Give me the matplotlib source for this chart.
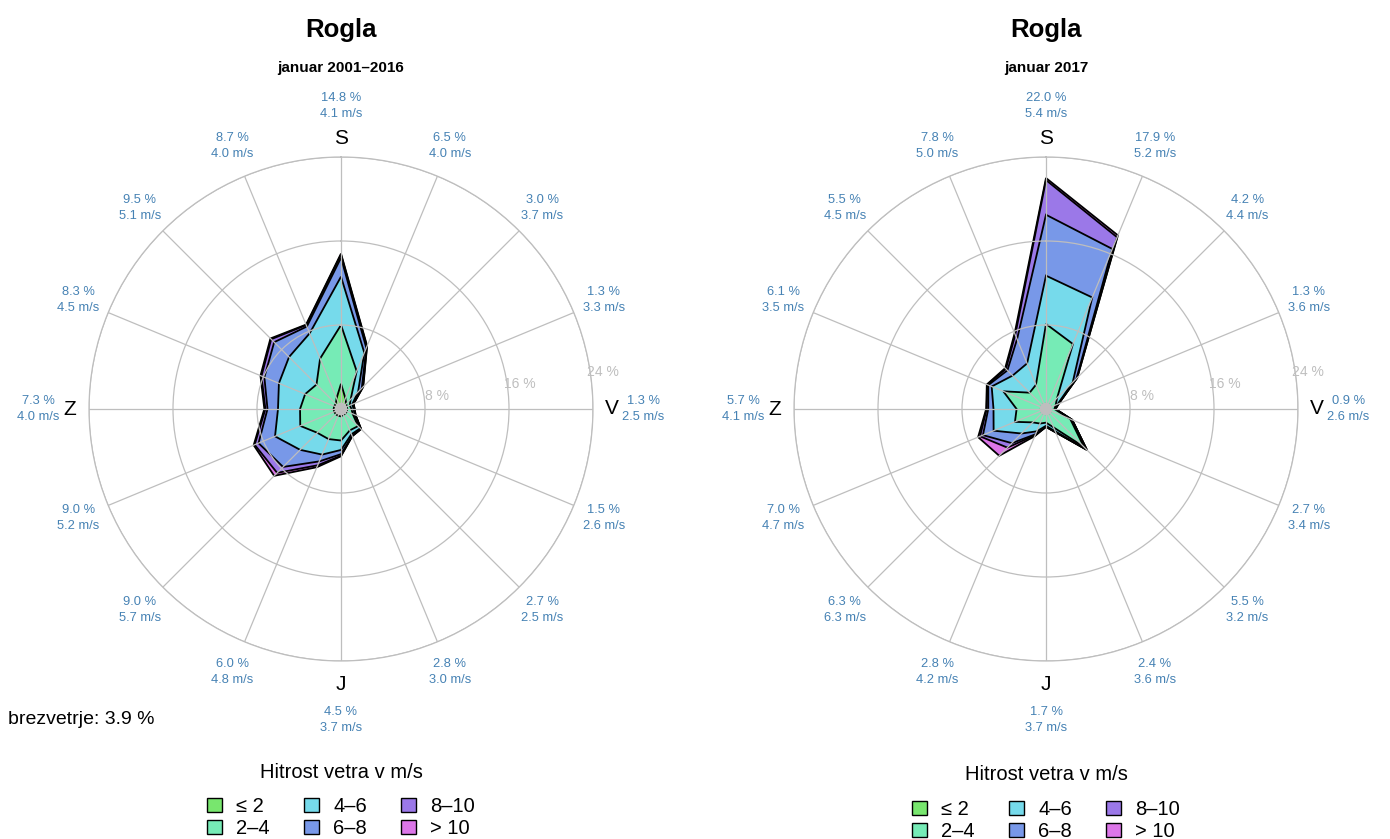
import numpy as np
import matplotlib
matplotlib.use('Agg')
import matplotlib.pyplot as plt
from matplotlib.patches import Patch

plt.rcParams['font.family'] = ['Liberation Sans', 'DejaVu Sans']

# ---------------- data ----------------
directions = ['S', 'SSV', 'SV', 'VSV', 'V', 'VJV', 'JV', 'JJV',
              'J', 'JJZ', 'JZ', 'ZJZ', 'Z', 'ZSZ', 'SZ', 'SSZ']
cardinal_letters = {0: 'S', 4: 'V', 8: 'J', 12: 'Z'}
speed_classes = ['≤ 2', '2–4', '4–6', '6–8', '8–10', '> 10']
class_colors = ['#78E66E', '#76EBB6', '#76DAEB', '#7898E8', '#9B78E8', '#DC76E8']
legend_title = 'Hitrost vetra v m/s'
station = 'Rogla'

# left rose: januar 2001–2016  (frequency %, per speed class, per direction)
left_period = 'januar 2001–2016'
left_total = [14.8, 6.5, 3.0, 1.3, 1.3, 1.5, 2.7, 2.8, 4.5, 6.0, 9.0, 9.0, 7.3, 8.3, 9.5, 8.7]
left_speed = [4.1, 4.0, 3.7, 3.3, 2.5, 2.6, 2.5, 3.0, 3.7, 4.8, 5.7, 5.2, 4.0, 4.5, 5.1, 4.0]
left_le2 = [2.4, 1.1, 0.7, 0.6, 0.6, 0.6, 0.6, 0.6, 0.7, 0.7, 0.7, 0.7, 0.7, 0.7, 0.7, 1.1]
left_2_4 = [5.6, 2.8, 0.6, 0.3, 0.4, 0.6, 1.7, 1.6, 2.3, 2.4, 2.5, 3.5, 3.2, 3.0, 2.6, 4.1]
left_4_6 = [4.6, 1.9, 1.0, 0.25, 0.2, 0.2, 0.3, 0.4, 0.9, 1.6, 2.3, 2.6, 2.1, 2.7, 3.7, 2.6]
left_6_8 = [1.8, 0.5, 0.5, 0.1, 0.08, 0.08, 0.08, 0.15, 0.4, 0.7, 2.3, 1.7, 1.0, 1.5, 2.0, 0.7]
left_8_10 = [0.3, 0.15, 0.15, 0.05, 0.02, 0.02, 0.02, 0.05, 0.15, 0.4, 0.8, 0.4, 0.2, 0.3, 0.4, 0.15]
left_gt10 = [0.1, 0.05, 0.05, 0.0, 0.0, 0.0, 0.0, 0.0, 0.05, 0.2, 0.4, 0.1, 0.1, 0.1, 0.1, 0.05]
left_calm = 3.9

# right rose: januar 2017
right_period = 'januar 2017'
right_total = [22.0, 17.9, 4.2, 1.3, 0.9, 2.7, 5.5, 2.4, 1.7, 2.8, 6.3, 7.0, 5.7, 6.1, 5.5, 7.8]
right_speed = [5.4, 5.2, 4.4, 3.6, 2.6, 3.4, 3.2, 3.6, 3.7, 4.2, 6.3, 4.7, 4.1, 3.5, 4.5, 5.0]
right_le2 = [0.5, 0.5, 0.5, 0.5, 0.5, 0.5, 0.5, 0.5, 0.5, 0.5, 0.5, 0.5, 0.5, 0.5, 0.5, 0.5]
right_2_4 = [7.6, 6.2, 1.0, 0.5, 0.3, 2.0, 4.6, 1.4, 0.8, 1.0, 1.3, 2.7, 2.3, 3.9, 1.7, 2.0]
right_4_6 = [4.6, 4.8, 2.1, 0.2, 0.05, 0.15, 0.3, 0.4, 0.3, 0.8, 1.5, 2.2, 2.2, 1.2, 2.3, 2.2]
right_6_8 = [5.8, 5.0, 0.5, 0.1, 0.05, 0.05, 0.1, 0.1, 0.1, 0.3, 1.3, 1.1, 0.5, 0.35, 0.7, 2.5]
right_8_10 = [3.3, 1.2, 0.1, 0.0, 0.0, 0.0, 0.0, 0.0, 0.0, 0.1, 0.6, 0.3, 0.15, 0.1, 0.2, 0.45]
right_gt10 = [0.2, 0.2, 0.0, 0.0, 0.0, 0.0, 0.0, 0.0, 0.0, 0.1, 1.1, 0.2, 0.05, 0.05, 0.1, 0.15]

grid_rings = [8, 16, 24]

# ---------------- style ----------------
W, H = 1390, 839
R_PX = 252
GRID_C = '#BEBEBE'
LABEL_C = '#4682B4'

fig = plt.figure(figsize=(W / 100, H / 100), dpi=100)


def rose(cx, cy, classes, totals, speeds, period):
    ax = fig.add_axes([(cx - R_PX) / W, (H - cy - R_PX) / H, 2 * R_PX / W, 2 * R_PX / H],
                      projection='polar')
    ax.set_theta_zero_location('N')
    ax.set_theta_direction(-1)
    n = len(directions)
    theta = np.deg2rad(np.arange(n) * 360.0 / n)
    ax.set_ylim(0, grid_rings[-1])
    ax.set_thetagrids(np.arange(n) * 360.0 / n, labels=[''] * n)
    ax.set_rgrids(grid_rings, labels=[''] * len(grid_rings))
    ax.grid(True, color=GRID_C, lw=0.9)
    ax.spines['polar'].set_color(GRID_C)
    ax.spines['polar'].set_linewidth(0.9)
    ax.set_axisbelow(False)
    ax.tick_params(pad=0, length=0)

    cum = np.cumsum(np.array(classes), axis=0)
    th = np.append(theta, theta[0])
    for k in range(len(classes) - 1, -1, -1):
        r = np.append(cum[k], cum[k][0])
        ax.fill(th, r, facecolor=class_colors[k], edgecolor='black', lw=1.3, zorder=1)
    tc = np.linspace(0, 2 * np.pi, 100)
    ax.fill(tc, np.full_like(tc, 0.6), facecolor=GRID_C, edgecolor='none', zorder=1.5)

    # ring labels
    for v in grid_rings:
        ax.text(np.deg2rad(82), v + 1.2, f'{v} %', color=GRID_C, fontsize=10,
                ha='center', va='center')
    # cardinal letters
    for i, letter in cardinal_letters.items():
        rr = 26.2 if i == 8 else 25.8
        ax.text(theta[i], rr, letter, fontsize=15, ha='center', va='center')
    # value labels
    for i in range(n):
        if i == 0:
            rl = 28.9
        elif i == 8:
            rl = 29.6
        elif i in (4, 12):
            rl = 28.8
        else:
            rl = 27.1
        ax.text(theta[i], rl, f'{totals[i]:.1f} %\n{speeds[i]:.1f} m/s', color=LABEL_C,
                fontsize=9.3, ha='center', va='center', linespacing=1.45)

    fig.text(cx / W, 1 - 30 / H, station, fontsize=18.5, fontweight='bold',
             ha='center', va='center')
    fig.text(cx / W, 1 - 68 / H, period, fontsize=11, fontweight='bold',
             ha='center', va='center')
    return ax


left_classes = [left_le2, left_2_4, left_4_6, left_6_8, left_8_10, left_gt10]
right_classes = [right_le2, right_2_4, right_4_6, right_6_8, right_8_10, right_gt10]

rose(341, 409, left_classes, left_total, left_speed, left_period)
rose(1046, 409, right_classes, right_total, right_speed, right_period)

fig.text(8 / W, 1 - 720 / H, f'brezvetrje: {left_calm:.1f} %', fontsize=14,
         ha='left', va='center')

handles = [Patch(facecolor=c, edgecolor='black', lw=1.0) for c in class_colors]
for cx, ty, top in ((341, 772, 787), (1046, 775, 790)):
    fig.text(cx / W, 1 - ty / H, legend_title, fontsize=14.5, ha='center', va='center')
    fig.legend(handles, speed_classes, ncol=3, loc='upper center',
               bbox_to_anchor=(cx / W, 1 - top / H),
               frameon=False, fontsize=14.5,
               handlelength=0.75, handleheight=0.75, handletextpad=0.7,
               columnspacing=1.7, labelspacing=0.15, borderpad=0)

fig.savefig('out.png', dpi=100)
